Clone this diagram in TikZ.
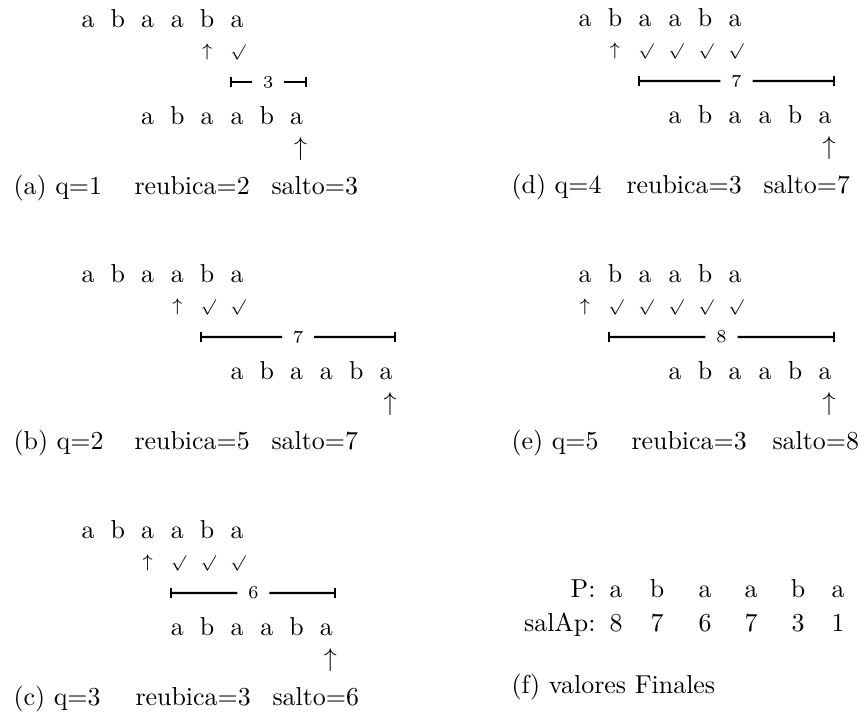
\documentclass[tikz,border=0pt]{standalone}
\usepackage{amssymb}
\usetikzlibrary{arrows.meta,calc}
\tikzset{
  lt/.style={anchor=base, inner sep=0pt},
  mk/.style={anchor=base, inner sep=0pt, font=\scriptsize},
  ck/.style={anchor=south, inner sep=0pt, font=\fontsize{6.5}{7}\selectfont},
  bigarr/.style={anchor=base, inner sep=0pt},
  captxt/.style={anchor=base west, inner sep=0pt},
  captxtr/.style={anchor=base east, inner sep=0pt},
  barlab/.style={inner sep=0pt, minimum width=12pt, font=\scriptsize},
  barline/.style={line width=0.8pt},
}
% #1 id, #2 x0, #3 dx, #4 top baseline, #5 shift, #6 first check column, #7 salto
\newcommand\mypanel[7]{%
  \foreach \ch [count=\k from 0] in {a,b,a,a,b,a} {
    \node[lt] (#1t\k) at ({#2+#3*\k},#4) {\ch};
    \node[lt] (#1b\k) at ({#2+#3*(\k+#5)},{#4+97}) {\ch};
  }
  \node[mk] (#1up) at ({#2+#3*(#6-1)},{#4+29}) {$\uparrow$};
  \foreach \k in {#6,...,5} {
    \node[ck] (#1c\k) at ({#2+#3*\k+1},{#4+34}) {$\surd$};
  }
  \coordinate (#1bs) at ({#2+#3*#6-7},{#4+55});
  \coordinate (#1be) at ({#2+#3*(5+#5)+10},{#4+55});
  \node[barlab] (#1bl) at ($(#1bs)!0.5!(#1be)$) {$\mathnormal{#7}$};
  \draw[barline,{Bar[width=4.2pt]}-] (#1bs) -- (#1bl.west);
  \draw[barline,-{Bar[width=4.2pt]}] (#1bl.east) -- (#1be);
  \node[bigarr] (#1arr) at ({#2+#3*(5+#5)+4},{#4+128}) {$\uparrow$};
}
% #1 id, #2 #3 #4 x positions, #5 baseline, #6 #7 #8 texts
\newcommand\mycap[8]{%
  \node[captxt] (#1cq) at (#2,#5) {#6};
  \node[captxt] (#1cr) at (#3,#5) {#7};
  \node[captxt] (#1cs) at (#4,#5) {#8};
}
\begin{document}
\begin{tikzpicture}[x=0.386pt,y=-0.386pt]
\useasboundingbox (0,0) rectangle (864,719);
\mypanel{a}{88}{29.8}{27}{2}{5}{3}
\mypanel{b}{88}{29.8}{282}{5}{4}{7}
\mypanel{c}{88}{29.8}{538}{3}{3}{6}
\mypanel{d}{585}{30}{26}{3}{2}{7}
\mypanel{e}{585}{30}{282}{3}{1}{8}
\mycap{a}{13}{134}{271}{194}{(a) q=1}{reubica=2}{salto=3}
\mycap{b}{13}{134}{271}{449}{(b) q=2}{reubica=5}{salto=7}
\mycap{c}{13}{135}{272}{705}{(c) q=3}{reubica=3}{salto=6}
\mycap{d}{511}{626}{763}{193}{(d) q=4}{reubica=3}{salto=7}
\mycap{e}{511}{631}{772}{449}{(e) q=5}{reubica=3}{salto=8}
% (f)
\node[captxtr] (fP) at (596,597) {P:};
\node[captxtr] (fS) at (596,631) {salAp:};
\foreach \ch/\n/\xx [count=\k from 0] in {a/8/616,b/7/657,a/6/705,a/7/751,b/3/798,a/1/838} {
  \node[lt] (fp\k) at (\xx,597) {\ch};
  \node[lt] (fs\k) at (\xx,631) {\n};
}
\node[captxt] (fcap) at (511,693) {(f) valores Finales};
\end{tikzpicture}
\end{document}
